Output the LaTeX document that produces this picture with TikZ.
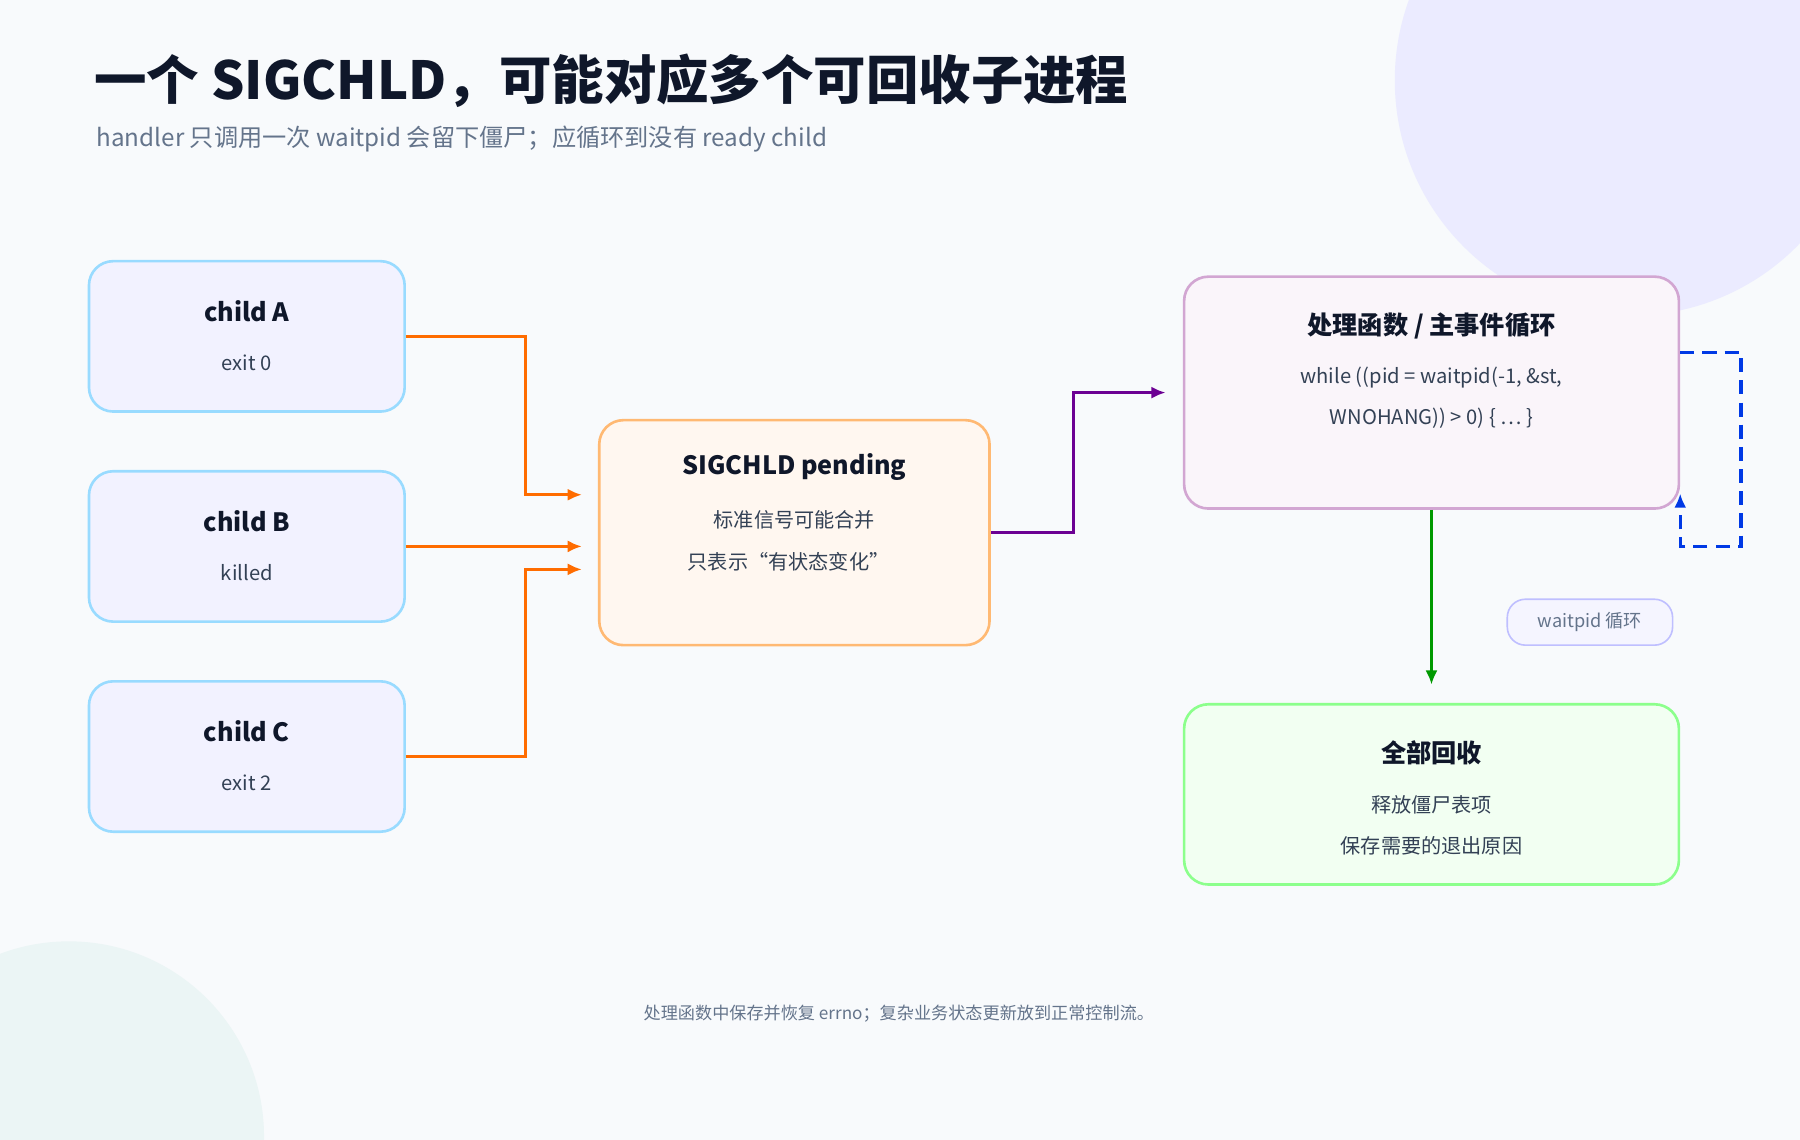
\documentclass[tikz,border=0pt]{standalone}
\usepackage{fontspec}
\setmainfont{Noto Sans CJK SC}
\usetikzlibrary{calc}
\usetikzlibrary{arrows.meta}
\usetikzlibrary{positioning}
\definecolor{bgc}{HTML}{F8FAFC}
\definecolor{ink}{HTML}{0F172A}
\definecolor{sub}{HTML}{64748B}
\definecolor{body}{HTML}{334155}
\tikzset{box/.style={draw,line width=1.3pt,rounded corners=12pt,inner sep=0pt}}
\tikzset{childbox/.style={box,draw=blue!35!cyan!40,fill=blue!5,minimum width=275*0.02cm,minimum height=131*0.02cm}}
\tikzset{hd/.style={font=\bfseries\fontsize{12.5}{14}\selectfont,text=ink}}
\tikzset{tx/.style={font=\fontsize{10}{12}\selectfont,text=body}}
\tikzset{flow/.style={line width=1.6pt,-{Latex[length=7pt,width=6pt]}}}
\begin{document}
\begin{tikzpicture}[x=0.02cm,y=-0.02cm]
\fill[bgc] (0,0) rectangle (1568,993);
\begin{scope}
\clip (0,0) rectangle (1568,993);
\fill[blue!8] (1420,70) circle (205);
\fill[teal!8] (60,990) circle (170);
\end{scope}
\useasboundingbox (0,0) rectangle (1568,993);

% titles
\node[anchor=west,font=\bfseries\fontsize{26}{30}\selectfont,text=ink] (title) at (76,70) {一个 SIGCHLD，可能对应多个可回收子进程};
\node[anchor=west,font=\fontsize{12}{14}\selectfont,text=sub] (subt) at (78,121) {handler 只调用一次 waitpid 会留下僵尸；应循环到没有 ready child};

% children
\foreach \n/\y/\s in {A/293/exit 0,B/476/killed,C/659/exit 2}
{
	\node[childbox] (child\n) at (215,\y) {};
	\node[hd] at ($(child\n)+(0,-22)$) {child \n};
	\node[tx] at ($(child\n)+(0,23)$) {\s};
}

% middle
\node[box,draw=orange!55,fill=orange!6,minimum width=340*0.02cm,minimum height=196*0.02cm] (pend) at (692,464) {};
\node[hd] at ($(pend)+(0,-57)$) {SIGCHLD pending};
\node[tx] at ($(pend)+(0,-11)$) {标准信号可能合并};
\node[tx] at ($(pend)+(-5,25)$) {只表示“有状态变化”};

% handler
\node[box,draw=violet!35,fill=violet!4,minimum width=431*0.02cm,minimum height=202*0.02cm] (hand) at (1247,342) {};
\node[hd] at ($(hand)+(0,-58)$) {处理函数 / 主事件循环};
\node[tx] at ($(hand)+(0,-13)$) {while ((pid = waitpid(-1, \&st,};
\node[tx] at ($(hand)+(0,22)$) {WNOHANG)) > 0) \{ … \}};

% done
\node[box,draw=green!45,fill=green!5,minimum width=431*0.02cm,minimum height=157*0.02cm] (done) at (1247,692) {};
\node[hd] at ($(done)+(0,-36)$) {全部回收};
\node[tx] at ($(done)+(0,9)$) {释放僵尸表项};
\node[tx] at ($(done)+(0,45)$) {保存需要的退出原因};

\node[draw=blue!25,fill=blue!4,rounded corners=9pt,line width=0.8pt,minimum width=144*0.02cm,minimum height=40*0.02cm,font=\fontsize{9}{11}\selectfont,text=sub] (loop) at (1385,542) {waitpid 循环};

% connectors
\draw[flow,orange!85!red] (childA.east) -- ++(104,0) |- ($(pend.west)+(-14,-33)$);
\draw[flow,orange!85!red] (childB.east) -- ($(pend.west)+(-14,12)$);
\draw[flow,orange!85!red] (childC.east) -- ++(104,0) |- ($(pend.west)+(-14,32)$);
\draw[flow,violet!85!blue] (pend.east) -- ++(72,0) |- ($(hand.west)+(-15,0)$);
\draw[flow,green!60!black] (hand.south) -- ($(done.north)+(0,-16)$);
\draw[flow,blue!75!cyan!90!black,dashed,dash pattern=on 7pt off 4pt] ($(hand.east)+(0,-35)$) -- ++(53,0) -- ++(0,169) -- ++(-53,0) -- ($(hand.east)+(0,88)$);

\node[font=\fontsize{8.5}{10}\selectfont,text=sub] (note) at (783,883) {处理函数中保存并恢复 errno；复杂业务状态更新放到正常控制流。};
\end{tikzpicture}
\end{document}
